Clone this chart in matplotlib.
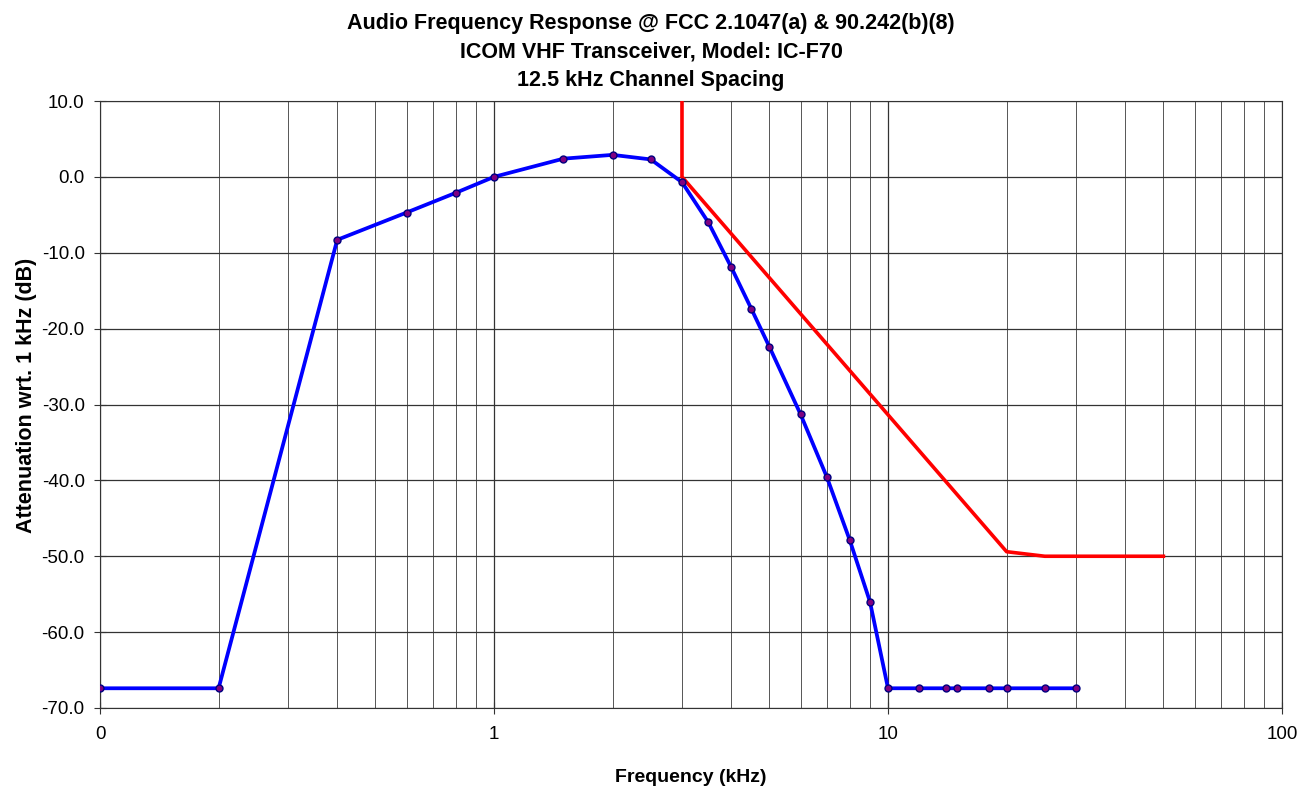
import matplotlib
matplotlib.use("Agg")
import matplotlib.pyplot as plt
from matplotlib.ticker import FixedLocator, FuncFormatter, LogLocator, NullFormatter

plt.rcParams['font.family'] = ['Liberation Sans', 'DejaVu Sans']

freq_khz = [0.1, 0.2, 0.4, 0.6, 0.8, 1.0, 1.5, 2.0, 2.5, 3.0, 3.5, 4.0, 4.5, 5.0,
            6.0, 7.0, 8.0, 9.0, 10.0, 12.0, 14.0, 15.0, 18.0, 20.0, 25.0, 30.0]
response_db = [-67.4, -67.4, -8.3, -4.7, -2.1, 0.0, 2.4, 2.9, 2.3, -0.7, -6.0, -11.9,
               -17.4, -22.4, -31.3, -39.6, -47.9, -56.0, -67.4, -67.4, -67.4, -67.4,
               -67.4, -67.4, -67.4, -67.4]
mask_freq = [3.0, 3.0, 20.0, 25.0, 50.0]
mask_db = [10.0, 0.0, -49.4, -50.0, -50.0]

title = ("Audio Frequency Response @ FCC 2.1047(a) & 90.242(b)(8)\n"
         "ICOM VHF Transceiver, Model: IC-F70\n"
         "12.5 kHz Channel Spacing")

fig = plt.figure(figsize=(13.12, 7.90), dpi=100)
ax = fig.add_axes([100/1312, (790-708)/790, (1282-100)/1312, (708-101)/790])

ax.set_xscale('log')
ax.set_xlim(0.1, 100)
ax.set_ylim(-70, 10)

ax.xaxis.set_major_locator(FixedLocator([0.1, 1, 10, 100]))
ax.xaxis.set_major_formatter(FuncFormatter(lambda v, p: f"{v:.0f}"))
ax.xaxis.set_minor_locator(LogLocator(base=10, subs=range(2, 10), numticks=20))
ax.xaxis.set_minor_formatter(NullFormatter())
ax.set_yticks(range(-70, 11, 10))
ax.yaxis.set_major_formatter(FuncFormatter(lambda v, p: f"{v:.1f}"))

ax.grid(True, which='major', axis='both', color='#333333', linewidth=0.9)
ax.grid(True, which='minor', axis='x', color='#555555', linewidth=0.7)
ax.tick_params(which='minor', length=0)
ax.tick_params(axis='x', which='major', direction='inout', length=8, labelsize=13.5,
               color='#333333', pad=9)
ax.tick_params(axis='y', which='major', direction='inout', length=8, labelsize=13.5,
               color='#333333', pad=7)
ax.set_axisbelow(True)
for s in ax.spines.values():
    s.set_color('#333333')

ax.plot(mask_freq, mask_db, color='#ff0000', linewidth=2.6, clip_on=True, zorder=3)
ax.plot(freq_khz, response_db, color='#0000ff', linewidth=2.7, marker='o',
        markersize=5, markerfacecolor='#800080', markeredgecolor='#000080',
        markeredgewidth=1.0, zorder=4)

ax.set_title(title, fontsize=15.5, fontweight='bold', pad=11, linespacing=1.45,
             x=(651 - 100) / 1182)
ax.set_xlabel("Frequency (kHz)", fontsize=14, fontweight='bold', labelpad=19)
ax.set_ylabel("Attenuation wrt. 1 kHz (dB)", fontsize=15.5, fontweight='bold', labelpad=7)
ax.yaxis.set_label_coords(-0.053, (708 - 395) / 607)

fig.savefig("out.png", dpi=100)
